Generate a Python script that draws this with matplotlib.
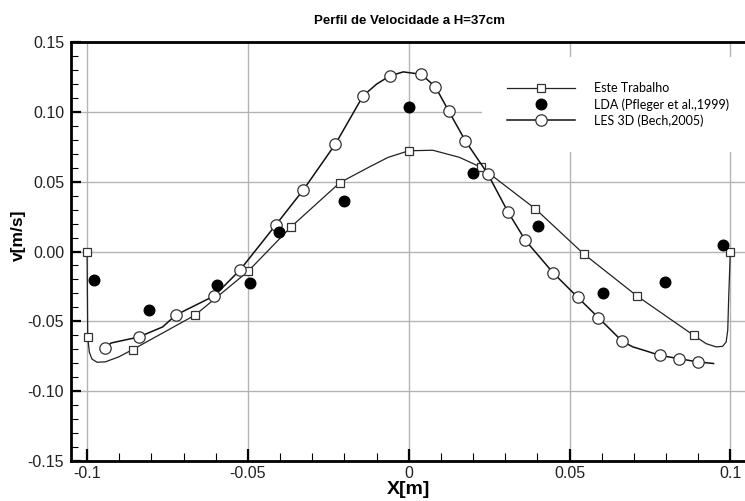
import matplotlib
matplotlib.use("Agg")
import matplotlib.pyplot as plt
from matplotlib.ticker import MultipleLocator, FixedLocator, FixedFormatter

# Este Trabalho: simulated profile (line points) and the points shown with squares
este_x = [-0.1000, -0.0999, -0.0998, -0.0993, -0.0985, -0.0969, -0.0943, -0.0902,
          -0.0858, -0.0664, -0.0499, -0.0366, -0.0214, -0.0121, -0.0064, 0.0000,
          0.0075, 0.0158, 0.0226, 0.0394, 0.0544, 0.0709, 0.0886, 0.0925,
          0.0956, 0.0976, 0.0987, 0.0992, 0.0995, 0.1000]
este_v = [0.0000, -0.0300, -0.0614, -0.0720, -0.0770, -0.0793, -0.0790, -0.0755,
          -0.0702, -0.0455, -0.0141, 0.0176, 0.0493, 0.0607, 0.0674, 0.0721,
          0.0725, 0.0674, 0.0602, 0.0305, -0.0017, -0.0317, -0.0600, -0.0660,
          -0.0683, -0.0679, -0.0648, -0.0564, -0.0326, 0.0000]
este_marks = [0, 2, 8, 9, 10, 11, 12, 15, 18, 19, 20, 21, 22, 29]

# LDA measurements (Pfleger et al., 1999)
lda_x = [-0.0977, -0.0808, -0.0595, -0.0492, -0.0403, -0.0202,
         0.0000, 0.0200, 0.0402, 0.0603, 0.0798, 0.0978]
lda_v = [-0.0207, -0.0421, -0.0238, -0.0226, 0.0143, 0.0359,
         0.1036, 0.0564, 0.0186, -0.0298, -0.0219, 0.0043]

# LES 3D (Bech, 2005): profile and the points shown with circles
les_x = [-0.0945, -0.0925, -0.0839, -0.0765, -0.0724, -0.0604, -0.0524, -0.0414,
         -0.0328, -0.0228, -0.0142, -0.0100, -0.0059, -0.0017, 0.0039, 0.0083,
         0.0124, 0.0176, 0.0246, 0.0308, 0.0363, 0.0450, 0.0526, 0.0590,
         0.0664, 0.0697, 0.0738, 0.0780, 0.0839, 0.0898, 0.0948]
les_v = [-0.0690, -0.0655, -0.0612, -0.0540, -0.0455, -0.0317, -0.0131, 0.0188,
         0.0440, 0.0769, 0.1114, 0.1198, 0.1257, 0.1286, 0.1269, 0.1179,
         0.1007, 0.0793, 0.0555, 0.0286, 0.0079, -0.0155, -0.0329, -0.0474,
         -0.0643, -0.0683, -0.0712, -0.0743, -0.0767, -0.0790, -0.0802]
les_marks = [0, 2, 4, 5, 6, 7, 8, 9, 10, 12, 14, 15, 16, 17, 18, 19, 20, 21,
             22, 23, 24, 27, 28, 29]

x_ticks = [-0.1, -0.05, 0.0, 0.05, 0.1]
x_ticklabels = ["-0.1", "-0.05", "0", "0.05", "0.1"]
y_ticks = [-0.15, -0.10, -0.05, 0.00, 0.05, 0.10, 0.15]
y_ticklabels = ["-0.15", "-0.10", "-0.05", "0.00", "0.05", "0.10", "0.15"]

plt.rcParams["font.family"] = ["Liberation Sans", "DejaVu Sans"]

W, H = 745, 501
fig = plt.figure(figsize=(W / 100, H / 100), dpi=100)
ax = fig.add_axes([71 / W, 1 - 461 / H, 675.4 / W, 419 / H])

ax.set_xlim(-0.105, 0.105)
ax.set_ylim(-0.15, 0.15)

ax.grid(True, which="major", color="#b4b4b4", linewidth=1.0, zorder=0)
ax.set_axisbelow(True)

ax.plot(este_x, este_v, color="#222222", linewidth=0.9, marker="s", markevery=este_marks,
        markersize=6.2, markerfacecolor="white", markeredgecolor="#333333",
        markeredgewidth=0.9, label="Este Trabalho", zorder=3)
ax.plot(lda_x, lda_v, linestyle="none", marker="o", markersize=7.6,
        markerfacecolor="black", markeredgecolor="black",
        label="LDA (Pfleger et al.,1999)", zorder=4)
ax.plot(les_x, les_v, color="#111111", linewidth=1.1, marker="o", markevery=les_marks,
        markersize=8.2, markerfacecolor="white", markeredgecolor="#333333",
        markeredgewidth=0.9, label="LES 3D (Bech,2005)", zorder=3)

ax.xaxis.set_major_locator(FixedLocator(x_ticks))
ax.xaxis.set_major_formatter(FixedFormatter(x_ticklabels))
ax.yaxis.set_major_locator(FixedLocator(y_ticks))
ax.yaxis.set_major_formatter(FixedFormatter(y_ticklabels))
ax.xaxis.set_minor_locator(MultipleLocator(0.01))
ax.yaxis.set_minor_locator(MultipleLocator(0.01))

ax.tick_params(axis="both", which="both", direction="in", colors="black",
               labelcolor="#222222", labelsize=11.5, top=False, right=False)
ax.tick_params(axis="x", which="major", length=9, width=1.6, pad=3.5)
ax.tick_params(axis="x", which="minor", length=6, width=0.8)
ax.tick_params(axis="y", which="major", length=7, width=1.6, pad=5)
ax.tick_params(axis="y", which="minor", length=5, width=0.8)

for side in ["left", "bottom", "top", "right"]:
    ax.spines[side].set_linewidth(2.0)

ax.set_xlabel("X[m]", fontsize=14, fontweight="bold")
ax.xaxis.label.set_va("center")
ax.xaxis.set_label_coords(0.5, -(490 - 461) / 419)

ax.set_ylabel("v[m/s]", fontsize=12.5, fontweight="bold")
ax.yaxis.label.set_va("center")
ax.yaxis.set_label_coords(-(71 - 18) / 675.4, (461 - 235) / 419)

fig.text(409 / W, 1 - 21 / H, "Perfil de Velocidade a H=37cm", ha="center", va="center",
         fontsize=9.5, fontweight="bold")

leg = ax.legend(loc="upper left", bbox_to_anchor=(476 / W, 1 - 51 / H),
                bbox_transform=fig.transFigure, frameon=True, fancybox=False,
                facecolor="white", edgecolor="none", framealpha=1.0,
                borderpad=2.0, handlelength=5.4, handletextpad=1.5,
                labelspacing=0.3, prop={"family": ["Lato", "DejaVu Sans"], "size": 9})

fig.savefig("out.png", dpi=100)
